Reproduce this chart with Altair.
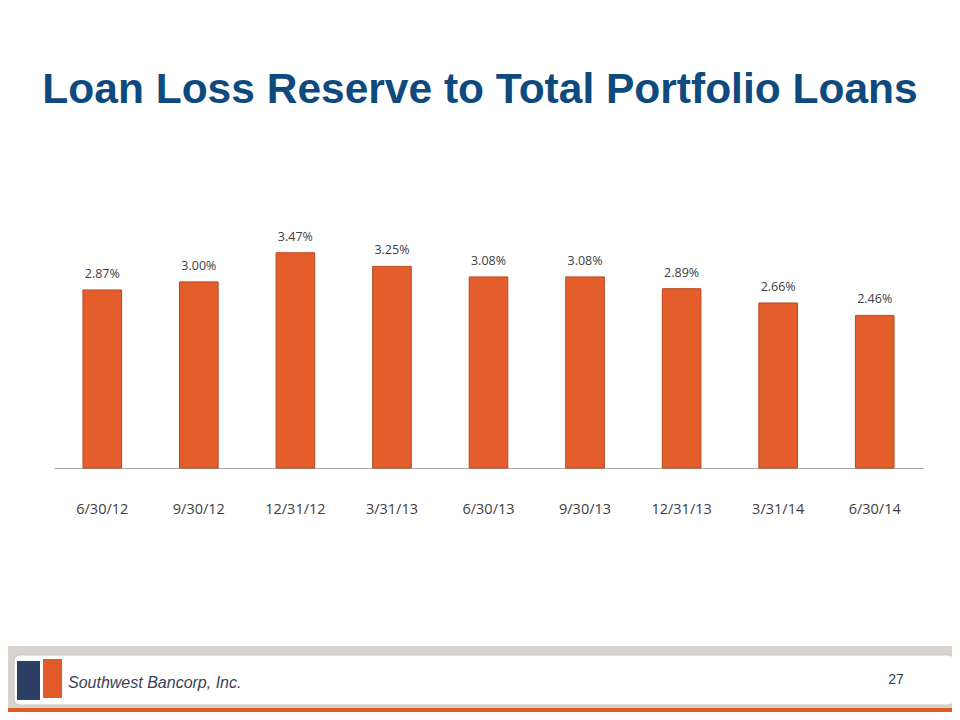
import altair as alt
import pandas as pd

categories = ["6/30/12", "9/30/12", "12/31/12", "3/31/13", "6/30/13",
              "9/30/13", "12/31/13", "3/31/14", "6/30/14"]
values = [2.87, 3.00, 3.47, 3.25, 3.08, 3.08, 2.89, 2.66, 2.46]
labels = ["2.87%", "3.00%", "3.47%", "3.25%", "3.08%", "3.08%", "2.89%", "2.66%", "2.46%"]

title_text = "Loan Loss Reserve to Total Portfolio Loans"
company = "Southwest Bancorp, Inc."
page_no = "27"

df = pd.DataFrame({"period": categories, "value": values, "label": labels})

W, H = 869, 268

x = alt.X("period:N", sort=categories, scale=alt.Scale(paddingInner=0.6, paddingOuter=0.3),
          axis=alt.Axis(title=None, ticks=False, domainColor="#A6A6A6", domainWidth=1,
                        labelAngle=0, labelFont="Open Sans", labelFontSize=14.5,
                        labelColor="#404040", labelPadding=34))
y = alt.Y("value:Q", scale=alt.Scale(domain=[0, 4.32], nice=False), axis=None)

base = alt.Chart(df)

bars = base.mark_bar(color="#E45E2C", stroke="#B9481F", strokeWidth=1).encode(x=x, y=y)
txt = base.mark_text(baseline="bottom", dy=-9, font="Open Sans", fontSize=12.5,
                     color="#404040").encode(x=x, y=y, text="label:N")

one = pd.DataFrame({"k": [0]})
dec = alt.Chart(one)

title = dec.mark_text(text=title_text, font="Liberation Sans", fontWeight="bold",
                      fontSize=42.5, color="#0E4A7E", align="center",
                      baseline="alphabetic").encode(x=alt.value(426), y=alt.value(-97))

gray = dec.mark_rect(color="#D8D3CE").encode(
    x=alt.value(-46), x2=alt.value(898), y=alt.value(446), y2=alt.value(508))
white = dec.mark_rect(color="#FFFFFF", cornerRadius=6, stroke="#C9C3BD", strokeWidth=1).encode(
    x=alt.value(-40), x2=alt.value(900), y=alt.value(455), y2=alt.value(505))
orange = dec.mark_rect(color="#E05A2A").encode(
    x=alt.value(-46), x2=alt.value(898), y=alt.value(508), y2=alt.value(512))
logo_blue = dec.mark_rect(color="#2E3F66").encode(
    x=alt.value(-37), x2=alt.value(-14), y=alt.value(461), y2=alt.value(500))
logo_orange = dec.mark_rect(color="#E05A2A").encode(
    x=alt.value(-11), x2=alt.value(8), y=alt.value(459), y2=alt.value(498))
comp = dec.mark_text(text=company, font="Liberation Sans", fontStyle="italic",
                     fontSize=16, color="#3A3F55", align="left",
                     baseline="middle").encode(x=alt.value(14), y=alt.value(483))
page = dec.mark_text(text=page_no, font="Liberation Sans", fontSize=14,
                     color="#2E3F55", align="center",
                     baseline="middle").encode(x=alt.value(842), y=alt.value(480))

chart = alt.layer(gray, white, orange, logo_blue, logo_orange, comp, page,
                  title, bars, txt).properties(
    width=W, height=H,
    autosize=alt.AutoSizeParams(type="none"),
    padding={"left": 46, "top": 192, "right": 29, "bottom": 244},
).configure_view(stroke=None)

chart.save("out.html", embed_options={"renderer": "svg", "actions": False})
